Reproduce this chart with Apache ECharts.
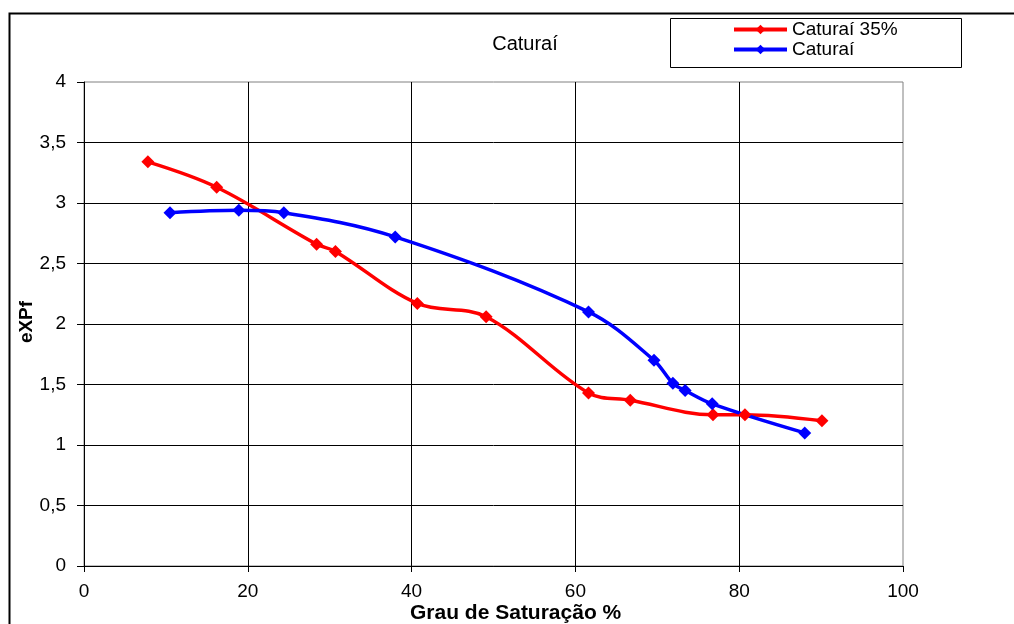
<!DOCTYPE html>
<html>
<head>
<meta charset="utf-8">
<script src="https://cdn.jsdelivr.net/npm/echarts@6/dist/echarts.min.js"></script>
<style>html,body{margin:0;padding:0;background:#fff}#c{width:1014px;height:624px}</style>
</head>
<body>
<div id="c"></div>
<script>
const chartTitle = "Caturaí";
const xAxisName = "Grau de Saturação %";
const yAxisName = "eXPf";
const seriesNames = ["Caturaí 35%", "Caturaí"];
const red35X = [7.8, 16.2, 28.4, 30.7, 40.7, 49.1, 61.6, 66.7, 76.8, 80.7, 90.1];
const red35Y = [3.34, 3.13, 2.66, 2.60, 2.17, 2.06, 1.43, 1.37, 1.25, 1.25, 1.20];
const blueX = [10.5, 18.9, 24.4, 38.0, 61.6, 69.6, 71.9, 73.4, 76.7, 88.0];
const blueY = [2.92, 2.94, 2.92, 2.72, 2.10, 1.70, 1.51, 1.45, 1.34, 1.10];

const FONT = "Liberation Sans, Arial, sans-serif";
const pairs = (xs, ys) => xs.map((x, i) => [x, ys[i]]);
const fmt = v => String(v).replace('.', ',');

const chart = echarts.init(document.getElementById('c'), null, {renderer: 'canvas'});
chart.setOption({
  backgroundColor: '#fff',
  animation: false,
  title: {
    text: chartTitle, left: 520, top: 29, textAlign: 'center',
    textStyle: {fontFamily: FONT, fontSize: 20, fontWeight: 'normal', color: '#000'}
  },
  legend: {
    orient: 'vertical', left: 732, top: 20, itemWidth: 53, itemHeight: 12, itemGap: 1,
    padding: 0,
    lineStyle: {width: 4},
    textStyle: {fontFamily: FONT, fontSize: 19, lineHeight: 19, color: '#000'},
    data: seriesNames
  },
  grid: {left: 84, top: 82, right: 111, bottom: 58, show: true, borderColor: '#808080', borderWidth: 1, containLabel: false},
  xAxis: {
    type: 'value', min: 0, max: 100, interval: 20,
    axisLine: {show: true, onZero: false, lineStyle: {color: '#000', width: 1}},
    axisTick: {show: true, inside: false, length: 6, lineStyle: {color: '#000'}},
    axisLabel: {fontFamily: FONT, fontSize: 19, color: '#000', margin: 16},
    splitLine: {show: true, showMaxLine: false, lineStyle: {color: '#000', width: 1}}
  },
  yAxis: {
    type: 'value', min: 0, max: 4, interval: 0.5,
    axisLine: {show: true, onZero: false, lineStyle: {color: '#000', width: 1}},
    axisTick: {show: true, inside: false, length: 7, lineStyle: {color: '#000'}},
    axisLabel: {fontFamily: FONT, fontSize: 19, color: '#000', margin: 18, formatter: fmt},
    splitLine: {show: true, showMaxLine: false, lineStyle: {color: '#000', width: 1}}
  },
  graphic: [
    {type: 'rect', left: 7, top: 11, shape: {width: 1100, height: 700}, style: {fill: 'none', stroke: '#000', lineWidth: 2}, silent: true, z: 0},
    {type: 'rect', left: 668, top: 16, shape: {width: 291, height: 49}, style: {fill: 'none', stroke: '#000', lineWidth: 1}, silent: true, z: 0},
    {type: 'text', left: 410, top: 603, style: {text: xAxisName, fontFamily: FONT, fontSize: 21, fontWeight: 'bold', fill: '#000'}, silent: true},
    {type: 'text', x: 27, y: 322, rotation: Math.PI / 2, style: {text: yAxisName, fontFamily: FONT, fontSize: 19, fontWeight: 'bold', fill: '#000', align: 'center', verticalAlign: 'middle'}, silent: true}
  ],
  series: [
    {name: seriesNames[0], type: 'line', data: pairs(red35X, red35Y), smooth: 0.35,
     symbol: 'diamond', symbolSize: 13, color: '#ff0000',
     lineStyle: {width: 3.5, color: '#ff0000'}, itemStyle: {color: '#ff0000'}},
    {name: seriesNames[1], type: 'line', data: pairs(blueX, blueY), smooth: 0.35,
     symbol: 'diamond', symbolSize: 13, color: '#0000ff',
     lineStyle: {width: 3.5, color: '#0000ff'}, itemStyle: {color: '#0000ff'}}
  ]
});
</script>
</body>
</html>
